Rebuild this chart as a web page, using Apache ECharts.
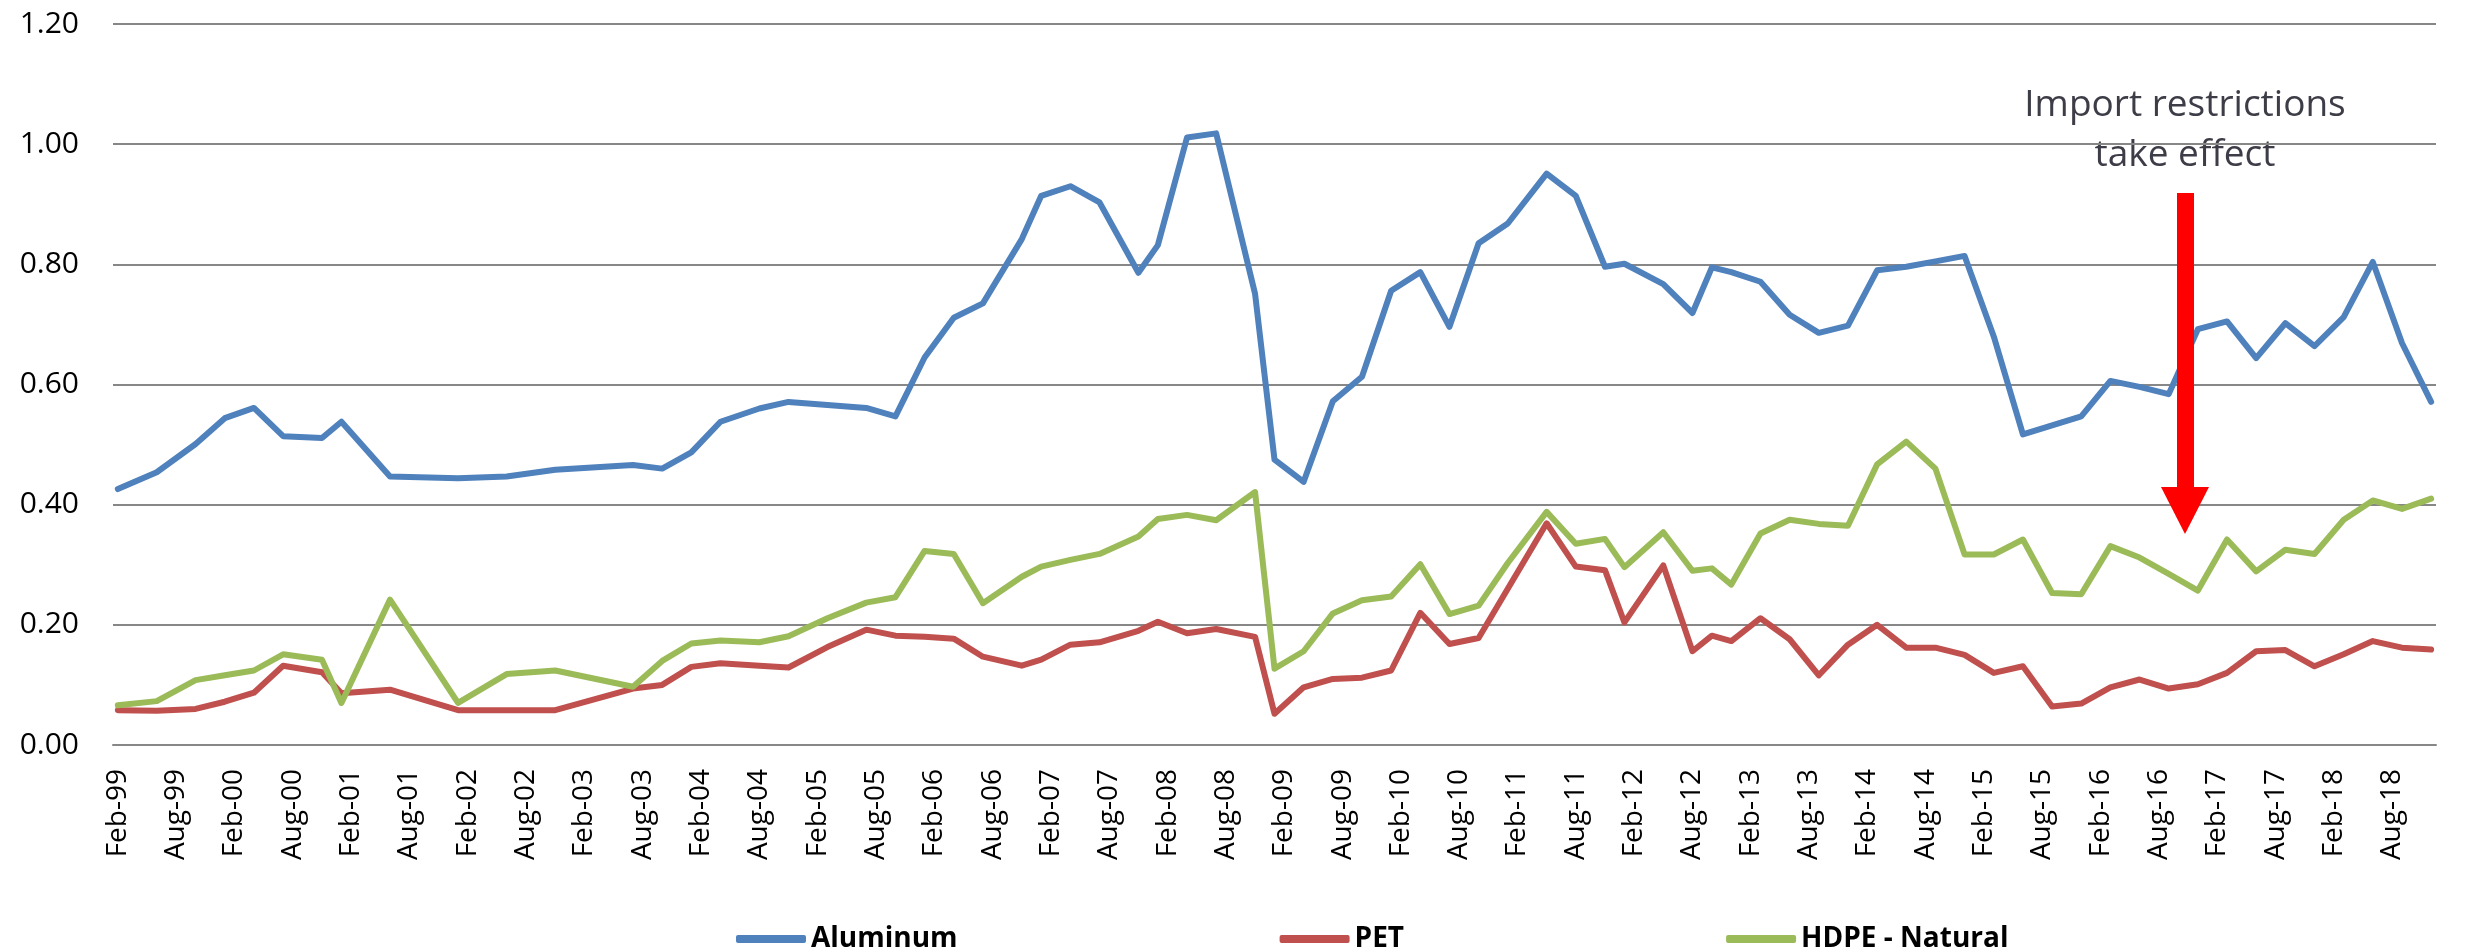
<!DOCTYPE html>
<html>
<head>
<meta charset="utf-8">
<script src="https://cdn.jsdelivr.net/npm/echarts@6/dist/echarts.min.js"></script>
<style>
html,body{margin:0;padding:0;background:#fff;}
#chart{width:2465px;height:952px;}
</style>
</head>
<body>
<div id="chart"></div>
<script>
// Sample dates (month-year) of the observations
const sampleDates = [
  'Feb-99','Jun-99','Oct-99','Jan-00','Apr-00','Jul-00','Nov-00','Jan-01','Jun-01','Jan-02',
  'Jun-02','Nov-02','Jul-03','Oct-03','Jan-04','Apr-04','Aug-04','Nov-04','Mar-05','Jul-05',
  'Oct-05','Jan-06','Apr-06','Jul-06','Nov-06','Jan-07','Apr-07','Jul-07','Nov-07','Jan-08',
  'Apr-08','Jul-08','Nov-08','Jan-09','Apr-09','Jul-09','Oct-09','Jan-10','Apr-10','Jul-10',
  'Oct-10','Jan-11','May-11','Aug-11','Nov-11','Jan-12','May-12','Aug-12','Oct-12','Dec-12',
  'Mar-13','Jun-13','Sep-13','Dec-13','Mar-14','Jun-14','Sep-14','Dec-14','Mar-15','Jun-15',
  'Sep-15','Dec-15','Mar-16','Jun-16','Sep-16','Dec-16','Mar-17','Jun-17','Sep-17','Dec-17',
  'Mar-18','Jun-18','Sep-18','Dec-18'
];
const aluminum = [
  0.426,0.454,0.501,0.544,0.561,0.514,0.511,0.538,0.447,0.444,
  0.447,0.458,0.466,0.460,0.487,0.538,0.560,0.571,0.566,0.561,
  0.547,0.645,0.711,0.735,0.842,0.914,0.930,0.903,0.786,0.832,
  1.011,1.018,0.751,0.475,0.438,0.572,0.613,0.756,0.787,0.696,
  0.835,0.868,0.951,0.914,0.796,0.801,0.767,0.719,0.795,0.787,
  0.771,0.716,0.686,0.698,0.790,0.796,0.805,0.814,0.680,0.517,
  0.532,0.547,0.606,0.596,0.584,0.692,0.705,0.644,0.702,0.664,
  0.712,0.804,0.669,0.571
];
const pet = [
  0.058,0.057,0.060,0.072,0.087,0.132,0.121,0.086,0.092,0.058,
  0.058,0.058,0.094,0.100,0.130,0.136,0.132,0.129,0.163,0.192,
  0.182,0.180,0.177,0.147,0.132,0.142,0.167,0.171,0.190,0.205,
  0.186,0.193,0.180,0.052,0.096,0.110,0.112,0.124,0.220,0.168,
  0.178,0.260,0.369,0.297,0.291,0.204,0.299,0.156,0.182,0.173,
  0.211,0.176,0.116,0.167,0.200,0.162,0.162,0.150,0.120,0.131,
  0.064,0.069,0.096,0.109,0.094,0.101,0.120,0.156,0.158,0.131,
  0.151,0.173,0.162,0.159
];
const hdpe = [
  0.066,0.073,0.108,0.116,0.124,0.151,0.142,0.070,0.242,0.070,
  0.118,0.124,0.097,0.140,0.169,0.174,0.171,0.181,0.211,0.237,
  0.246,0.323,0.318,0.236,0.280,0.297,0.308,0.318,0.347,0.376,
  0.383,0.374,0.421,0.127,0.156,0.219,0.241,0.247,0.301,0.218,
  0.232,0.303,0.388,0.335,0.343,0.296,0.354,0.290,0.294,0.267,
  0.352,0.375,0.368,0.365,0.467,0.505,0.460,0.317,0.317,0.342,
  0.253,0.251,0.331,0.312,0.285,0.257,0.342,0.289,0.325,0.318,
  0.375,0.407,0.393,0.410
];
const seriesNames = ['Aluminum', 'PET', 'HDPE - Natural'];
const seriesColors = ['#4F81BD', '#C0504D', '#9BBB59'];
const yTicks = [0, 0.2, 0.4, 0.6, 0.8, 1.0, 1.2];
const annotationText = 'Import restrictions\ntake effect';

// Monthly date axis Feb-99 .. Dec-18 (labels every 6 months)
const monthNames = ['Jan','Feb','Mar','Apr','May','Jun','Jul','Aug','Sep','Oct','Nov','Dec'];
const axisMonths = [];
for (let i = 0; i < 239; i++) {
  const m = (1 + i) % 12;
  const y = 1999 + Math.floor((1 + i) / 12);
  axisMonths.push(monthNames[m] + '-' + String(y % 100).padStart(2, '0'));
}

const font = "'Open Sans', 'Noto Sans', sans-serif";
const valueSets = [aluminum, pet, hdpe];
const series = valueSets.map((vals, k) => ({
  name: seriesNames[k],
  type: 'line',
  data: sampleDates.map((d, i) => [d, vals[i]]),
  symbol: 'none',
  showSymbol: false,
  lineStyle: { width: 6, color: seriesColors[k], join: 'round', cap: 'round' },
  itemStyle: { color: seriesColors[k] },
  z: 3 + k
}));

const chart = echarts.init(document.getElementById('chart'), null, { renderer: 'canvas' });
chart.setOption({
  animation: false,
  backgroundColor: '#ffffff',
  grid: { left: 113, right: 29, top: 24, bottom: 207, containLabel: false },
  xAxis: {
    type: 'category',
    data: axisMonths,
    boundaryGap: true,
    axisLine: { show: true, lineStyle: { color: '#878787', width: 2 } },
    axisTick: { show: false },
    axisLabel: {
      interval: 5,
      rotate: 90,
      margin: 24,
      fontFamily: font,
      fontSize: 28,
      color: '#000000'
    },
    splitLine: { show: false }
  },
  yAxis: {
    type: 'value',
    min: yTicks[0],
    max: yTicks[yTicks.length - 1],
    interval: 0.2,
    axisLine: { show: false },
    axisTick: { show: false },
    axisLabel: {
      margin: 34,
      fontFamily: font,
      fontSize: 30,
      color: '#000000',
      formatter: v => v.toFixed(2)
    },
    splitLine: { show: true, lineStyle: { color: '#878787', width: 2 } }
  },
  legend: {
    data: seriesNames,
    left: 731,
    top: 920,
    icon: 'roundRect',
    itemWidth: 70,
    itemHeight: 8,
    itemGap: 322,
    textStyle: { fontFamily: font, fontSize: 28, fontWeight: 'bold', color: '#000000' }
  },
  graphic: [
    {
      type: 'text',
      left: 2185 - 170,
      top: 80,
      style: {
        text: annotationText,
        x: 0,
        width: 340,
        align: 'center',
        textAlign: 'center',
        font: "37px 'Open Sans', sans-serif",
        fill: '#3d3d48',
        lineHeight: 50
      }
    },
    {
      type: 'rect',
      shape: { x: 2177, y: 193, width: 17, height: 296 },
      style: { fill: '#FF0000' },
      z: 10
    },
    {
      type: 'polygon',
      shape: { points: [[2161, 487], [2209, 487], [2185, 534]] },
      style: { fill: '#FF0000' },
      z: 10
    }
  ],
  series: series
});
</script>
</body>
</html>
